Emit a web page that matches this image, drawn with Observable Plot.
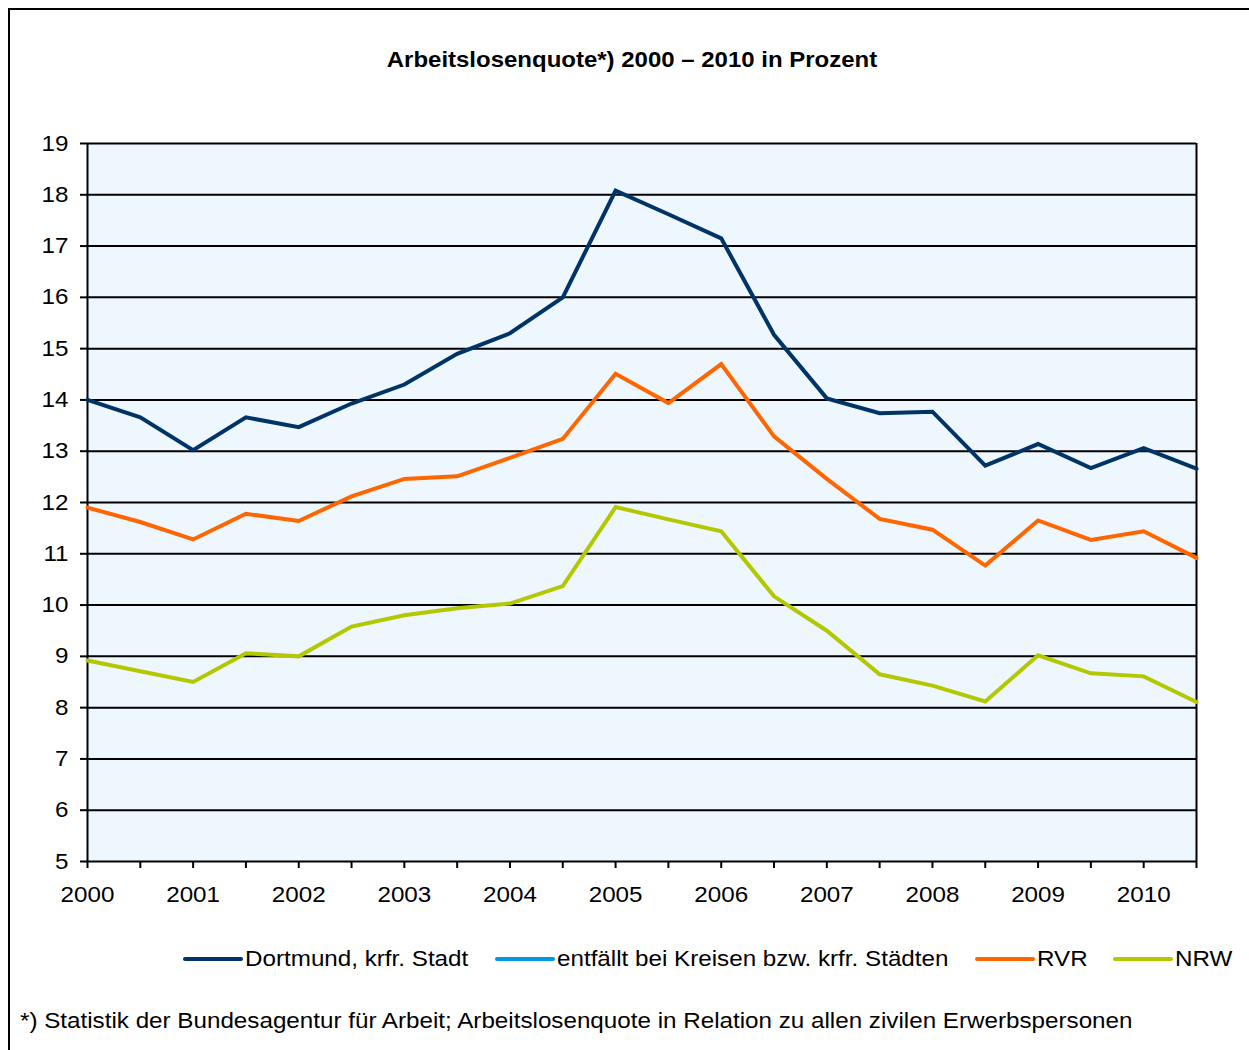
<!DOCTYPE html>
<html>
<head>
<meta charset="utf-8">
<script src="https://cdn.jsdelivr.net/npm/d3@7"></script>
<script src="https://cdn.jsdelivr.net/npm/@observablehq/plot@0.6"></script>
<style>
  html, body { margin: 0; padding: 0; background: #fff; overflow: hidden; }
  #page { position: relative; width: 1249px; height: 1050px; font-family: Arial, "Liberation Sans", sans-serif; color: #000; }
  #frame { position: absolute; left: 8px; top: 8px; width: 1260px; height: 1060px; border-left: 2px solid #000; border-top: 2px solid #000; box-sizing: border-box; pointer-events: none; }
  #title { position: relative; margin-left: 8px; width: 1248px; height: 125px; box-sizing: border-box; padding-top: 48px; line-height: 24px; font-size: 22px; font-weight: bold; text-align: center; }
  #title span { display: inline-block; transform: scaleX(1.09); transform-origin: center; }
  #chart svg { display: block; }
  #legend { position: relative; height: 70px; font-size: 22px; }
  .item { position: absolute; top: 22px; height: 24px; line-height: 24px; white-space: nowrap; }
  .item span { display: inline-block; transform: scaleX(1.1); transform-origin: left center; }
  .sw { position: absolute; top: 10px; height: 4px; border-radius: 2px; }
  #note { padding-left: 20px; padding-top: 14px; line-height: 24px; font-size: 22px; white-space: nowrap; }
  #note span { display: inline-block; transform: scaleX(1.1); transform-origin: left center; }
</style>
</head>
<body>
<div id="page">
  <div id="frame"></div>
  <div id="title"><span></span></div>
  <div id="chart"></div>
  <div id="legend"></div>
  <div id="note"><span></span></div>
</div>
<script>
const titleText = "Arbeitslosenquote*) 2000 – 2010 in Prozent";
const noteText = "*) Statistik der Bundesagentur für Arbeit; Arbeitslosenquote in Relation zu allen zivilen Erwerbspersonen";

const periods = [2000, 2000.5, 2001, 2001.5, 2002, 2002.5, 2003, 2003.5, 2004, 2004.5, 2005, 2005.5, 2006, 2006.5, 2007, 2007.5, 2008, 2008.5, 2009, 2009.5, 2010, 2010.5];
const yearLabels = [2000, 2001, 2002, 2003, 2004, 2005, 2006, 2007, 2008, 2009, 2010];
const yTicks = [5, 6, 7, 8, 9, 10, 11, 12, 13, 14, 15, 16, 17, 18, 19];

const dortmund = [14.0, 13.66, 13.02, 13.66, 13.47, 13.93, 14.30, 14.90, 15.30, 16.0, 18.08, 17.62, 17.15, 15.27, 14.03, 13.74, 13.77, 12.72, 13.14, 12.67, 13.06, 12.66];
const kreise = [];
const rvr = [11.90, 11.62, 11.28, 11.78, 11.64, 12.12, 12.46, 12.51, 12.87, 13.24, 14.51, 13.94, 14.70, 13.29, 12.46, 11.68, 11.47, 10.77, 11.65, 11.27, 11.44, 10.92];
const nrw = [8.92, 8.71, 8.50, 9.06, 9.00, 9.58, 9.80, 9.94, 10.03, 10.37, 11.91, 11.67, 11.44, 10.17, 9.50, 8.65, 8.43, 8.12, 9.02, 8.67, 8.61, 8.11];

const seriesNames = ["Dortmund, krfr. Stadt", "entfällt bei Kreisen bzw. krfr. Städten", "RVR", "NRW"];
const seriesColors = ["#003366", "#0099DD", "#FF6600", "#B3C800"];
const seriesValues = [dortmund, kreise, rvr, nrw];

const rows = [];
seriesValues.forEach((vals, s) => vals.forEach((v, i) => rows.push({period: periods[i], value: v, series: seriesNames[s]})));

document.querySelector("#title span").textContent = titleText;
document.querySelector("#note span").textContent = noteText;

const chart = Plot.plot({
  width: 1249,
  height: 800,
  marginLeft: 87,
  marginRight: 53,
  marginTop: 18,
  marginBottom: 64,
  style: {fontFamily: "Arial, 'Liberation Sans', sans-serif", fontSize: "22px", color: "#000", background: "transparent", overflow: "visible"},
  x: {domain: [2000, 2010.5], label: null},
  y: {domain: [5, 19], label: null},
  color: {domain: seriesNames, range: seriesColors},
  marks: [
    Plot.frame({fill: "#EEF6FE", stroke: null}),
    Plot.ruleY(yTicks, {stroke: "#000", strokeWidth: 2}),
    Plot.ruleX([2000, 2010.5], {stroke: "#000", strokeWidth: 2}),
    Plot.axisY({ticks: yTicks, tickSize: 7, tickPadding: 12, tickFormat: d => String(d), stroke: "#000", strokeWidth: 2, fill: "#000", label: null}),
    Plot.axisX({ticks: periods, tickSize: 7, tickFormat: () => "", stroke: "#000", strokeWidth: 2, label: null}),
    Plot.axisX({ticks: yearLabels, tickSize: 0, tickPadding: 25, tickFormat: d => String(d), fill: "#000", label: null}),
    Plot.lineY(rows, {x: "period", y: "value", z: "series", stroke: "series", strokeWidth: 4, strokeLinejoin: "miter", strokeMiterlimit: 10})
  ]
});
document.getElementById("chart").appendChild(chart);

// widen tick labels slightly to match the reference's glyph proportions
d3.select(chart).selectAll('g[aria-label$="tick label"] text').each(function() {
  const t = this.getAttribute("transform") || "";
  this.setAttribute("transform", t + " scale(1.1,1)");
});

// legend
const legend = document.getElementById("legend");
const legendPos = [183, 495, 975, 1113];
seriesNames.forEach((name, i) => {
  const item = document.createElement("div");
  item.className = "item";
  item.style.left = legendPos[i] + "px";
  item.style.paddingLeft = "62px";
  const sw = document.createElement("div");
  sw.className = "sw";
  sw.style.left = "0px";
  sw.style.width = "60px";
  sw.style.background = seriesColors[i];
  item.appendChild(sw);
  const label = document.createElement("span");
  label.textContent = name;
  item.appendChild(label);
  legend.appendChild(item);
});
</script>
</body>
</html>
